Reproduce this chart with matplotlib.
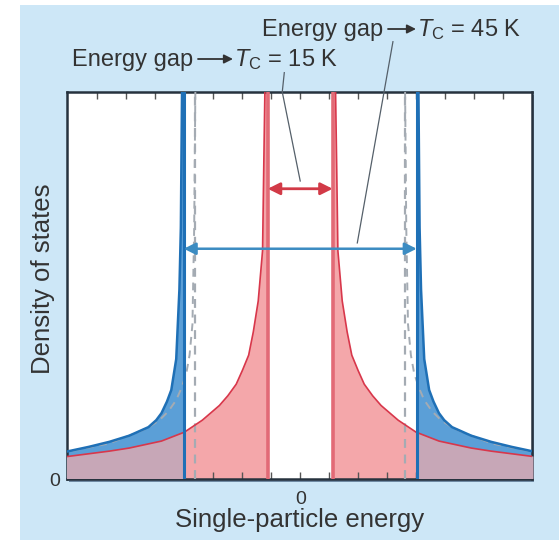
import matplotlib
matplotlib.use("Agg")
import matplotlib.pyplot as plt
import numpy as np
from matplotlib.patches import Rectangle, Polygon, FancyArrowPatch

plt.rcParams['font.family'] = ['Liberation Sans', 'DejaVu Sans']
plt.rcParams['mathtext.fontset'] = 'custom'
plt.rcParams['mathtext.rm'] = 'Liberation Sans'
plt.rcParams['mathtext.it'] = 'Liberation Sans:italic'

# gap edges (single-particle energy, arbitrary units)
red_gap = 1.12     # Tc = 15 K
blue_gap = 4.02    # Tc = 45 K
dash_gap = 3.62

# density of states, for |E| outside the gap
red_E = [1.22, 1.26, 1.30, 1.45, 1.62, 1.78, 2.0, 2.21, 2.5, 2.79, 3.38, 4.0, 4.79, 5.9, 6.59, 8.05]
red_dos = [10.0, 8.0, 5.9, 4.6, 3.8, 3.2, 2.8, 2.45, 2.15, 1.9, 1.52, 1.21, 0.98, 0.80, 0.72, 0.58]

blue_E = [4.08, 4.12, 4.17, 4.28, 4.45, 4.6, 4.79, 4.97, 5.24, 5.9, 6.59, 7.3, 8.05]
blue_dos = [10.0, 6.5, 4.9, 3.1, 2.3, 2.0, 1.70, 1.52, 1.34, 1.12, 0.96, 0.83, 0.71]

dash_E = [3.62, 3.66, 3.72, 3.82, 3.93, 4.1, 4.28, 4.55, 4.86, 5.25, 5.66, 6.6, 8.05]
dash_dos = [10.0, 6.5, 4.0, 3.2, 2.74, 2.35, 2.04, 1.75, 1.52, 1.33, 1.19, 0.92, 0.70]

red_arrow_y = 7.5
blue_arrow_y = 5.95

W, H = 559, 540
fig = plt.figure(figsize=(W / 100, H / 100), dpi=100)
fig.patch.set_facecolor('white')

def fx(px):
    return px / W

def fy(py):
    return 1 - py / H

# light blue panel
fig.patches.append(Rectangle((fx(20), 0), 1 - fx(20), fy(5), transform=fig.transFigure,
                             facecolor='#cde7f7', edgecolor='none', zorder=-3))
# frame shadow
fig.patches.append(Rectangle((fx(69), fy(482)), fx(532 - 67), (479 - 92) / H, transform=fig.transFigure,
                             facecolor='#6f8aa3', edgecolor='none', zorder=-2))

ax = fig.add_axes([fx(67), fy(479), fx(532 - 67), (479 - 92) / H])
ax.set_zorder(1)
ax.set_facecolor('white')
ax.set_xlim(-8.05, 8.0)
ax.set_ylim(0, 10)

pink = '#f4a7aa'
blue_fill = '#5b9fd7'
mauve = '#c7a7b7'
red_line = '#d8374b'
red_edge = '#e26a76'
blue_line = '#1f70b6'
grey = '#a4abb3'

for s in (-1, 1):
    rx = s * np.array(red_E)
    bx = s * np.array(blue_E)
    dx = s * np.array(dash_E)

    # pink region under the red curve
    pts = np.column_stack([np.r_[s * red_gap, s * red_gap, rx, rx[-1]],
                           np.r_[0, 10, red_dos, 0]])
    ax.add_patch(Polygon(pts, closed=True, facecolor=pink, edgecolor='none', zorder=1))

    # blue region under the blue curve
    pts = np.column_stack([np.r_[s * blue_gap, s * blue_gap, bx, bx[-1]],
                           np.r_[0, 10, blue_dos, 0]])
    ax.add_patch(Polygon(pts, closed=True, facecolor=blue_fill, edgecolor='none', zorder=2))

    # overlap of both -> mauve, clipped outside the blue gap
    pts = np.column_stack([np.r_[s * red_gap, s * red_gap, rx, rx[-1]],
                           np.r_[0, 10, red_dos, 0]])
    overlap = Polygon(pts, closed=True, facecolor=mauve, edgecolor='none', zorder=3)
    ax.add_patch(overlap)
    clip = Rectangle((min(s * blue_gap, s * 9), -1), 9 - blue_gap, 12, transform=ax.transData)
    overlap.set_clip_path(clip)

    ax.plot(dx, dash_dos, color=grey, lw=1.4, ls=(0, (4, 3)), zorder=4)
    ax.plot([s * dash_gap, s * dash_gap], [0, 10], color=grey, lw=1.6, ls=(0, (4, 3)), zorder=4)

    ax.plot(rx, red_dos, color=red_line, lw=1.2, zorder=5)
    ax.plot([s * red_gap, s * red_gap], [0, 10], color=red_edge, lw=2.6, zorder=5)

    ax.plot(bx, blue_dos, color=blue_line, lw=1.8, zorder=5)
    ax.plot([s * blue_gap, s * blue_gap], [0, 10], color=blue_line, lw=2.2, zorder=6)

# gap arrows
ax.annotate('', xy=(red_gap, red_arrow_y), xytext=(-red_gap, red_arrow_y),
            arrowprops=dict(arrowstyle='<|-|>', color='#d23a47', lw=2.0,
                            mutation_scale=18, shrinkA=0, shrinkB=0), zorder=7)
ax.annotate('', xy=(blue_gap, blue_arrow_y), xytext=(-blue_gap, blue_arrow_y),
            arrowprops=dict(arrowstyle='<|-|>', color='#3c8cc2', lw=1.8,
                            mutation_scale=18, shrinkA=0, shrinkB=0), zorder=7)

# leader lines from the labels
ax.plot([-0.55, -0.62, 0.0], [10.5, 10.0, 7.7], color='#55606a', lw=0.9, clip_on=False, zorder=8)
ax.plot([3.2, 1.97], [11.3, 6.1], color='#55606a', lw=0.9, clip_on=False, zorder=8)

ax.set_xticks(range(-7, 8))
ax.set_xticklabels(['0' if t == 0 else '' for t in range(-7, 8)], fontsize=14, color='#333333')
ax.set_yticks([0])
ax.set_yticklabels(['0'], fontsize=14, color='#333333')
ax.tick_params(axis='x', direction='in', top=True, length=5, width=1, color='#555555', pad=9)
ax.tick_params(axis='y', length=0, pad=5)
for sp in ax.spines.values():
    sp.set_color('#26323e')
    sp.set_linewidth(1.8)

fig.text(fx(300), fy(520), 'Single-particle energy', ha='center', va='center', fontsize=18.5, color='#333333')
fig.text(fx(43), fy(279), 'Density of states', ha='center', va='center', rotation=90, fontsize=18.5, color='#333333')

# labels with arrow
def gap_label(x0, base, arrow_x0, arrow_x1, tx, text):
    fig.text(fx(x0), fy(base), 'Energy gap', ha='left', va='baseline', fontsize=17, color='#333333')
    fig.add_artist(FancyArrowPatch(
        (fx(arrow_x0), fy(base - 7)), (fx(arrow_x1), fy(base - 7)), transform=fig.transFigure,
        arrowstyle='-|>', mutation_scale=13, color='#333333', lw=1.3, shrinkA=0, shrinkB=0))
    fig.text(fx(tx), fy(base), text, ha='left', va='baseline', fontsize=17, color='#333333')

gap_label(262, 36, 388, 416, 417, r'$T_\mathrm{C}$ = 45 K')
gap_label(72, 66, 198, 233, 234, r'$T_\mathrm{C}$ = 15 K')

fig.savefig('out.png', dpi=100)
